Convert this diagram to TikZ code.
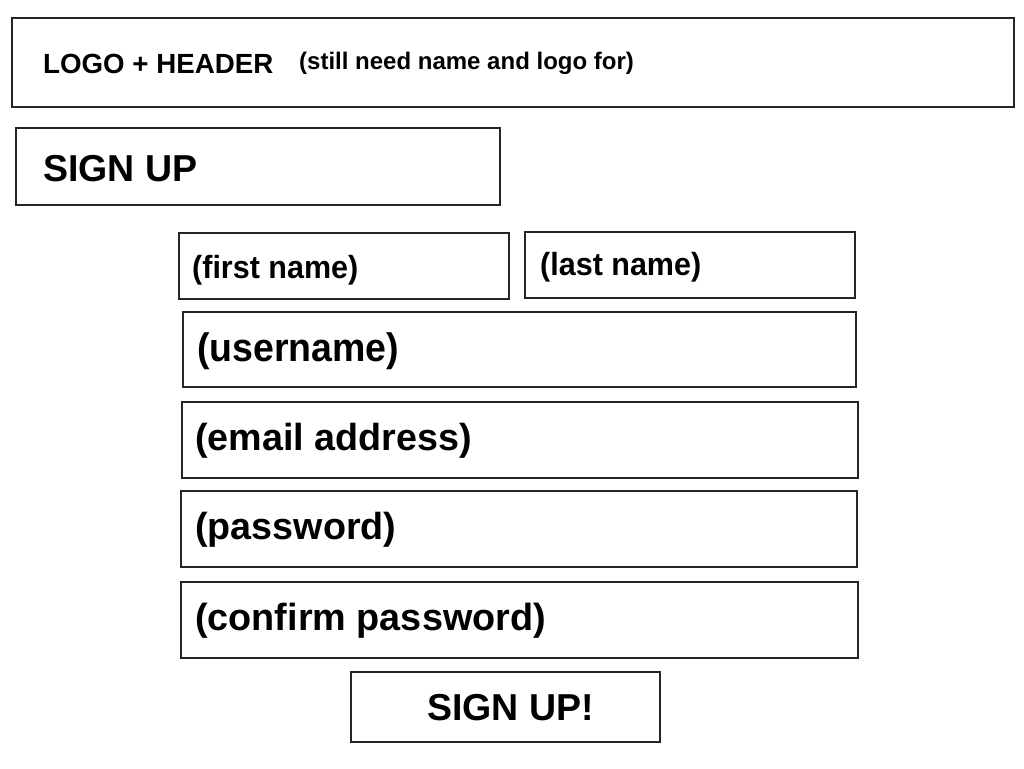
\documentclass[tikz,border=0pt]{standalone}
\usepackage{fontspec}
\setmainfont{Liberation Sans}
\usetikzlibrary{fit}
\tikzset{
  box/.style={draw=black!85, line width=2pt, inner sep=0pt, fill=white},
  lbl/.style={anchor=base west, inner sep=0pt, font=\bfseries, text=black},
}
\newcommand{\fs}[1]{\fontsize{#1}{#1}\selectfont}
\begin{document}
\begin{tikzpicture}[x=1pt,y=-1pt]
\useasboundingbox[fill=white] (0,0) rectangle (1024,768);
% boxes
\node[box, fit={(12,18)(1014,107)}] (hdr) {};
\node[box, fit={(16,128)(500,205)}] (sign) {};
\node[box, fit={(179,233)(509,299)}] (first) {};
\node[box, fit={(525,232)(855,298)}] (last) {};
\node[box, fit={(183,312)(856,387)}] (user) {};
\node[box, fit={(182,402)(858,478)}] (email) {};
\node[box, fit={(181,491)(857,567)}] (pass) {};
\node[box, fit={(181,582)(858,658)}] (conf) {};
\node[box, fit={(351,672)(660,742)}] (btn) {};
% labels
\node[lbl, font=\bfseries\fs{27.7}] (hdrt) at (43,73) {LOGO + HEADER};
\node[lbl, font=\bfseries\fs{24}] (hdrn) at (299,70) {(still need name and logo for)};
\node[lbl, font=\bfseries\fs{37.5}] (signt) at (43,181) {SIGN UP};
\node[lbl, font=\bfseries\fs{30.5}] (firstt) at (192,278) {\scalebox{1}[1.05]{(first name)}};
\node[lbl, font=\bfseries\fs{30.5}] (lastt) at (540,275) {\scalebox{1}[1.05]{(last name)}};
\node[lbl, font=\bfseries\fs{37.5}] (usert) at (197,361.5) {\scalebox{1}[1.06]{(username)}};
\node[lbl, font=\bfseries\fs{37.7}] (emailt) at (195,450) {(email address)};
\node[lbl, font=\bfseries\fs{37.7}] (passt) at (195,539) {(password)};
\node[lbl, font=\bfseries\fs{37.8}] (conft) at (195,630) {(confirm password)};
\node[lbl, font=\bfseries\fs{37.5}] (btnt) at (427,720) {SIGN UP!};
\end{tikzpicture}
\end{document}
